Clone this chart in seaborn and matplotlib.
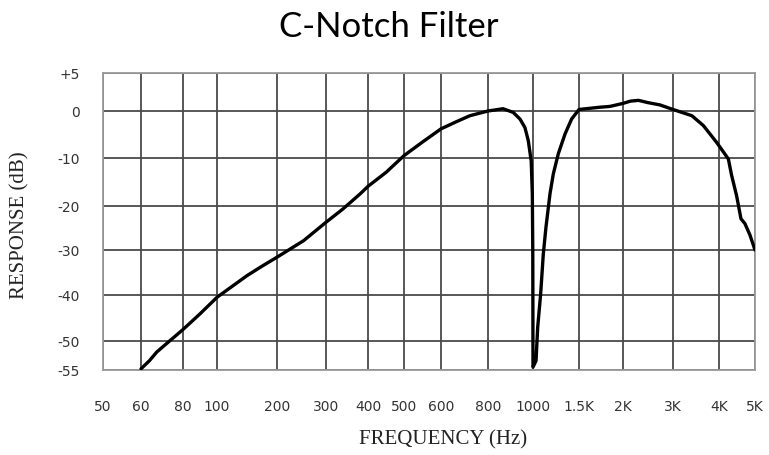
import numpy as np
import pandas as pd
import matplotlib
matplotlib.use("Agg")
import matplotlib.pyplot as plt
import seaborn as sns

# ---- data ----
freq_hz = [60, 64, 67.5, 72, 80, 90, 100, 125, 150, 175, 200, 254, 300, 340, 381,
           400, 450, 500, 550, 600, 660, 723, 800, 867, 912, 942, 964, 979, 992,
           997, 999, 999.5, 1000, 1033, 1051, 1083, 1112, 1141, 1185, 1221, 1275,
           1348, 1420, 1500, 1740, 1850, 2000, 2150, 2310, 2500, 2740, 3000, 3410,
           3660, 3950, 4260, 4350, 4490, 4610, 4720, 4860, 5000]
response_db = [-54.8, -53.4, -51.9, -50.5, -47.5, -44.1, -40.5, -38.1, -35.7, -33.6,
               -31.6, -27.9, -23.7, -20.7, -17.5, -15.9, -13.0, -9.5, -6.6, -3.8,
               -2.4, -1.0, 0.0, 0.3, -0.3, -1.7, -3.5, -6.3, -10.6, -17.5, -30.0,
               -42.0, -54.5, -53.4, -47.0, -39.8, -30.9, -24.8, -17.4, -13.3, -9.1,
               -4.9, -1.7, 0.2, 0.5, 0.6, 1.0, 1.3, 1.4, 1.1, 0.8, 0.2, -1.0, -3.1,
               -6.7, -10.2, -13.6, -17.9, -22.9, -24.0, -26.6, -30.0]

x_ticks = [50, 60, 80, 100, 200, 300, 400, 500, 600, 800, 1000, 1500, 2000, 3000, 4000, 5000]
x_labels = ["50", "60", "80", "100", "200", "300", "400", "500", "600", "800", "1000",
            "1.5K", "2K", "3K", "4K", "5K"]
y_ticks = [-55, -50, -40, -30, -20, -10, 0, 5]
y_labels = ["-55", "-50", "-40", "-30", "-20", "-10", "0", "+5"]

# ---- non-uniform chart-paper scales (layout of the printed grid) ----
x_grid_pos = np.array([103, 141, 183, 217, 277, 326, 368, 404, 441, 488, 533, 579, 623, 673, 719, 755], float)
y_grid_pos = -np.array([371, 342, 296, 251, 207, 159, 112, 74], float)
xt = np.array(x_ticks, float)
yt = np.array(y_ticks, float)

def fx(v):
    return np.interp(v, xt, x_grid_pos)

def fx_inv(v):
    return np.interp(v, x_grid_pos, xt)

def fy(v):
    return np.interp(v, yt, y_grid_pos)

def fy_inv(v):
    return np.interp(v, y_grid_pos, yt)

sns.set_style("white")
plt.rcParams["font.family"] = ["DejaVu Sans"]

fig = plt.figure(figsize=(7.69, 4.56), dpi=100)
ax = fig.add_axes([103 / 769, 1 - 371 / 456, (755 - 103) / 769, (371 - 74) / 456])

df = pd.DataFrame({"freq": freq_hz, "db": response_db})
ax.set_xscale("function", functions=(fx, fx_inv))
ax.set_yscale("function", functions=(fy, fy_inv))

sns.lineplot(data=df, x="freq", y="db", ax=ax, sort=False, estimator=None,
             color="black", linewidth=2.4, zorder=5)

ax.set_xlim(50, 5000)
ax.set_ylim(-55, 5)
ax.set_xticks(x_ticks)
ax.set_xticklabels(x_labels)
ax.set_yticks(y_ticks)
ax.set_yticklabels(y_labels)
ax.minorticks_off()

ax.grid(True, color="#4a4a4a", linewidth=1.3)
ax.set_axisbelow(True)
for s in ax.spines.values():
    s.set_visible(True)
    s.set_color("#9a9a9a")
    s.set_linewidth(1.3)

ax.tick_params(axis="both", length=0, labelsize=10, colors="#333333")
ax.tick_params(axis="x", pad=21)
ax.tick_params(axis="y", pad=17)

ax.set_xlabel("FREQUENCY (Hz)", family=["Liberation Serif"], fontsize=15, color="#222222")
ax.set_ylabel("RESPONSE (dB)", family=["Liberation Serif"], fontsize=15, color="#222222")
ax.xaxis.set_label_coords(0.521, -0.2)
ax.yaxis.set_label_coords(-0.112, 0.49)

fig.text(0.505, 0.94, "C-Notch Filter", ha="center", va="center",
         family=["Lato", "DejaVu Sans"], fontsize=25, color="black")

fig.savefig("out.png", dpi=100)
